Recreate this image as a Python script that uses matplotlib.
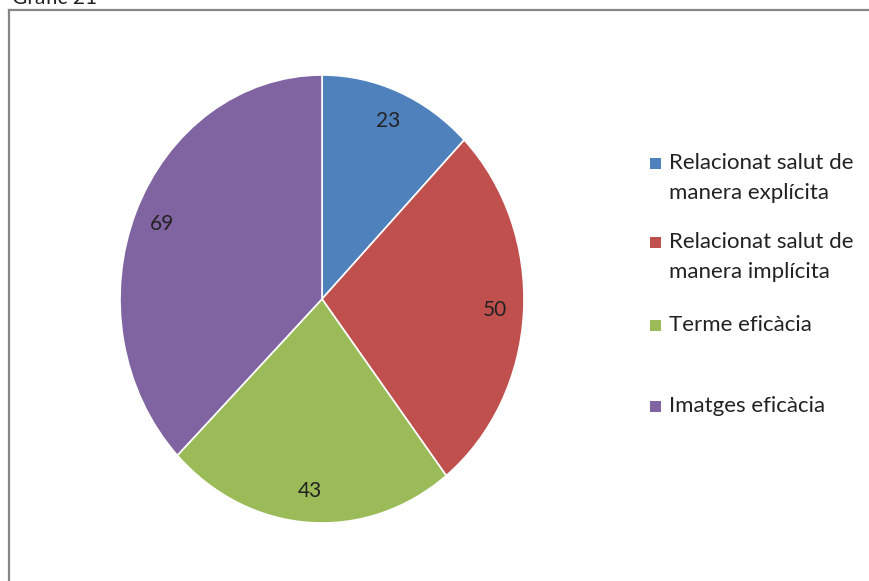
import matplotlib.pyplot as plt
from matplotlib.patches import Rectangle
from matplotlib.lines import Line2D

categories = ["Relacionat salut de\nmanera explícita",
              "Relacionat salut de\nmanera implícita",
              "Terme eficàcia",
              "Imatges eficàcia"]
values = [23, 50, 43, 69]
colors = ["#4F81BD", "#C0504D", "#9BBB59", "#8064A2"]

plt.rcParams['font.family'] = ['Lato', 'DejaVu Sans']

W, H = 869, 581
fig = plt.figure(figsize=(W / 100, H / 100), dpi=100)

# pie area: centre (322, 299), radius 202 x 224 px
cx, cy, rx, ry = 322, 299, 202, 224
ax = fig.add_axes([(cx - rx) / W, 1 - (cy + ry) / H, 2 * rx / W, 2 * ry / H])
wedges, texts = ax.pie(values, colors=colors, startangle=90, counterclock=False,
                       labels=[str(v) for v in values], labeldistance=0.86,
                       wedgeprops=dict(edgecolor='white', linewidth=1.2),
                       textprops=dict(fontsize=15, color='#222222'))
for t in texts:
    t.set_ha('center')
    t.set_va('center')
ax.set_aspect('auto')
ax.set_xlim(-1, 1)
ax.set_ylim(-1, 1)
ax.axis('off')

# chart frame (only left and top edges fall inside the image)
fig.add_artist(Line2D([9 / W, 9 / W], [0, 1 - 10 / H], color='#868686', lw=1.6))
fig.add_artist(Line2D([9 / W, 1], [1 - 10 / H, 1 - 10 / H], color='#868686', lw=1.6))
fig.text(12 / W, 1 - 4 / H, "Gràfic 21", fontsize=15, color='#222222', va='baseline')

# legend
legend_y = [163, 242, 325, 406]
for lbl, col, y in zip(categories, colors, legend_y):
    fig.add_artist(Rectangle((650 / W, 1 - (y + 6) / H), 11 / W, 11 / H,
                             facecolor=col, edgecolor='none'))
    fig.text(669 / W, 1 - (y + 6) / H, lbl.split("\n")[0], fontsize=16,
             color='#222222', va='baseline', ha='left')
    if "\n" in lbl:
        fig.text(669 / W, 1 - (y + 36) / H, lbl.split("\n")[1], fontsize=16,
                 color='#222222', va='baseline', ha='left')

fig.savefig('out.png', dpi=100)
